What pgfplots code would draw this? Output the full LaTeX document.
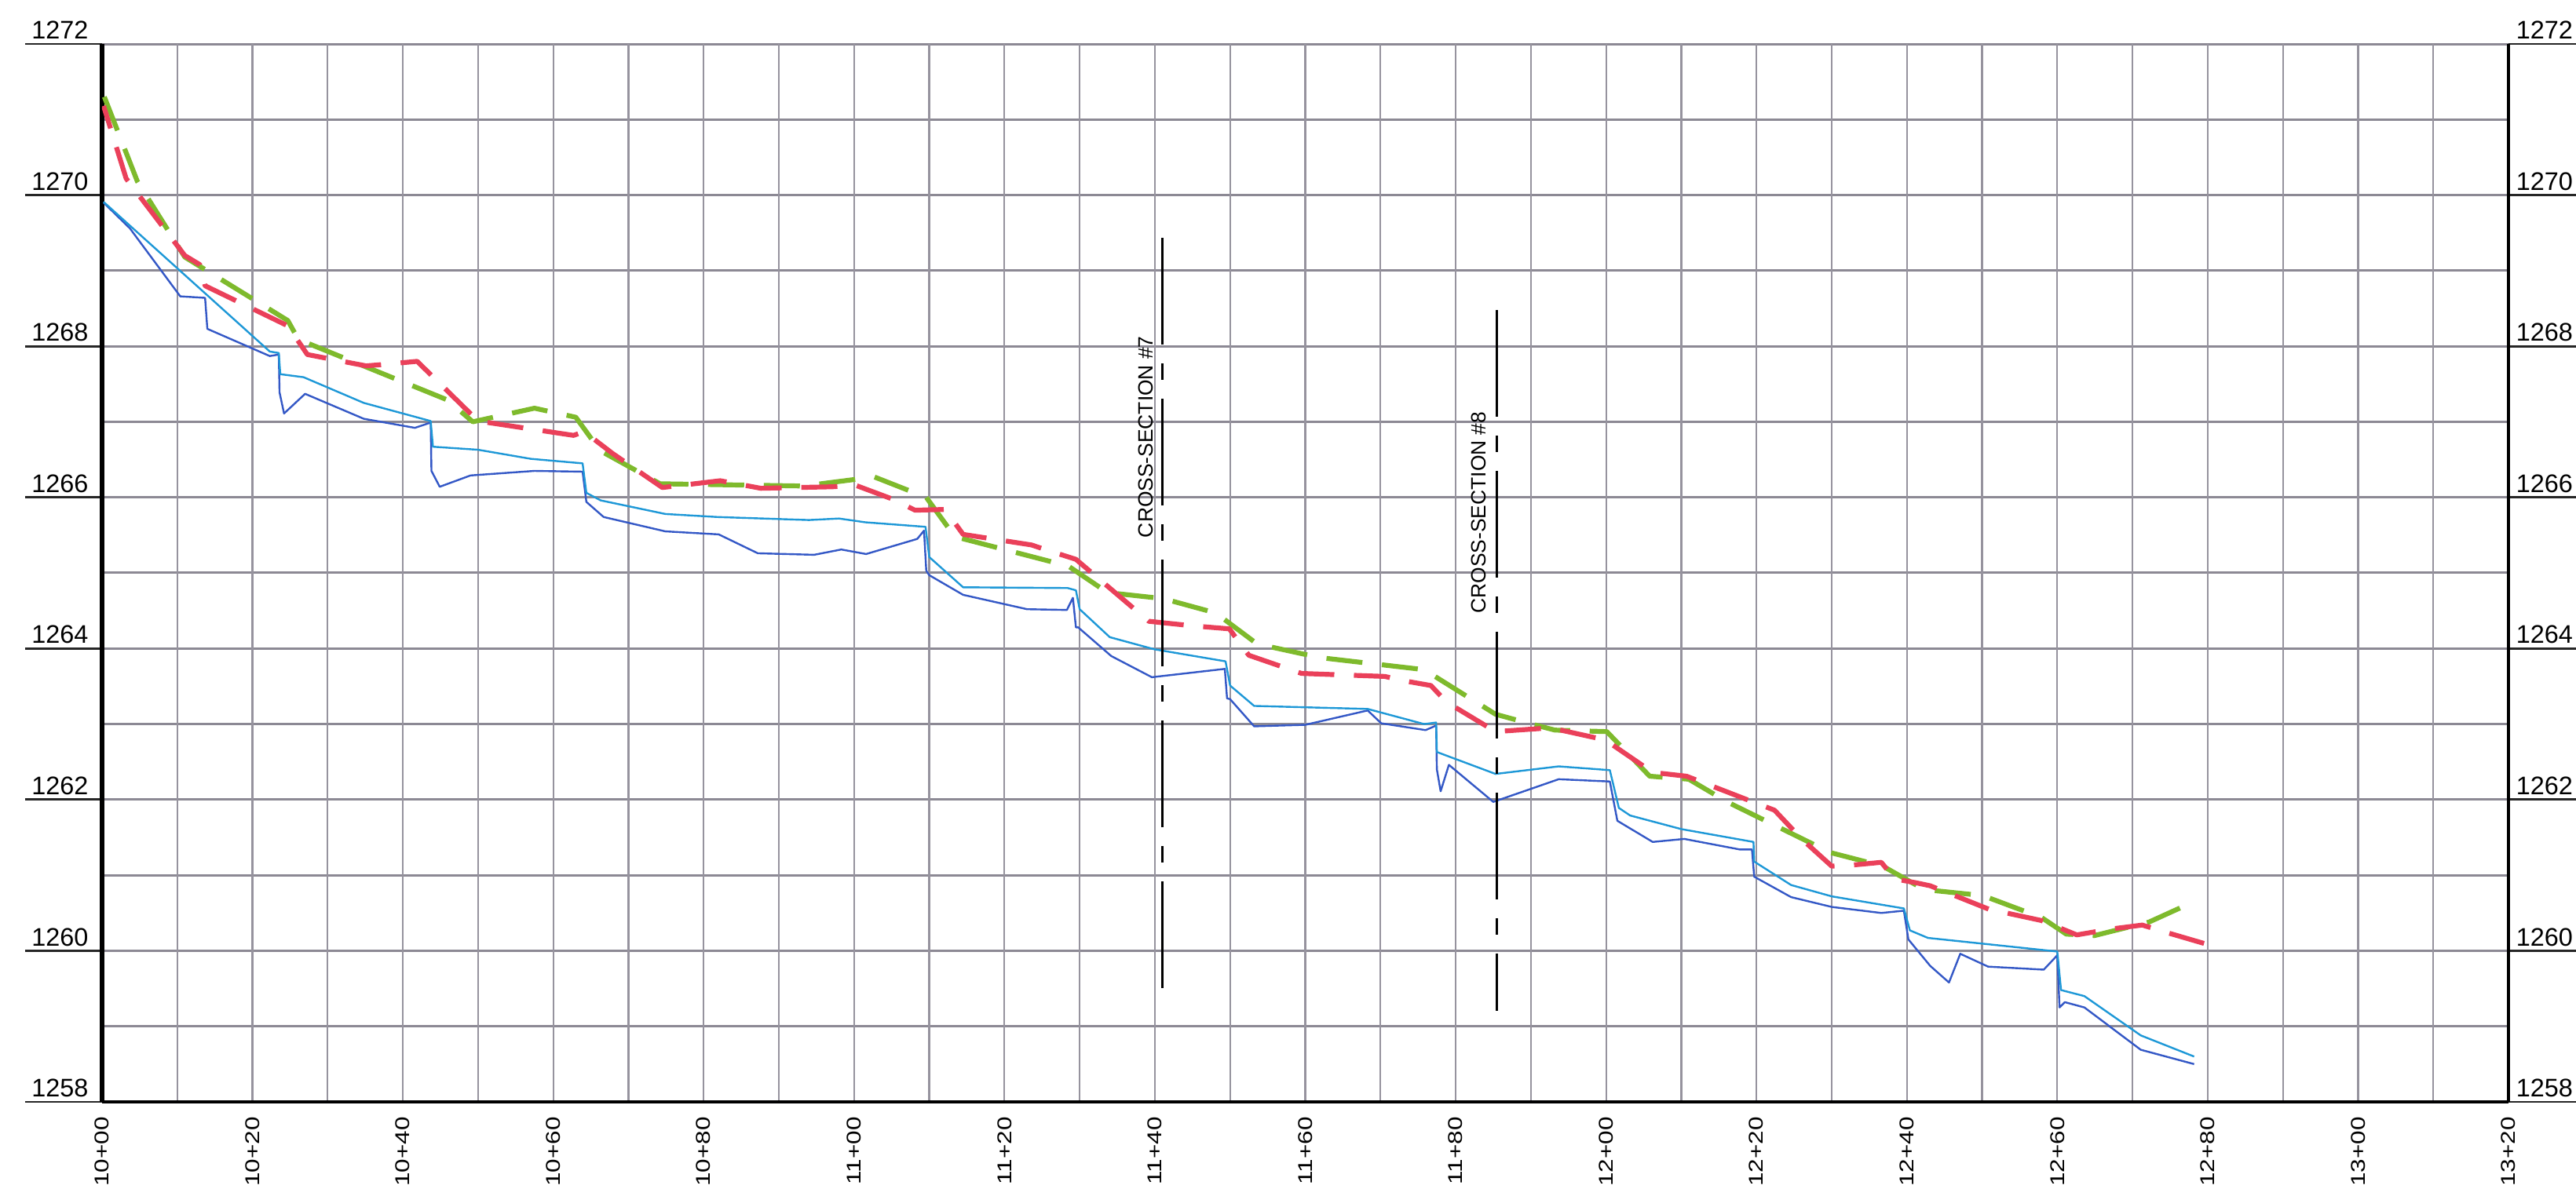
\documentclass[border=0pt]{standalone}
\usepackage{graphicx}
\usepackage{pgfplots}
\pgfplotsset{compat=1.18}
\usepackage{fontspec}
\setmainfont{Liberation Sans}
\definecolor{gridc}{RGB}{140,137,148}
\definecolor{gridv}{RGB}{150,147,158}
\definecolor{dkblue}{RGB}{52,88,198}
\definecolor{ltblue}{RGB}{30,152,215}
\definecolor{redd}{RGB}{234,64,90}
\definecolor{grn}{RGB}{126,186,44}
\newcommand\xl[1]{\scalebox{1.24}[1]{#1}}
\begin{document}
\begin{tikzpicture}
\path[use as bounding box] (-32.5pt,-27.5pt) rectangle (787.75pt,351pt);
% background axis: horizontal grid, right labels, left/right axis lines, tick extensions
\begin{axis}[
  at={(0,0)}, anchor=south west, scale only axis,
  width=766.25pt, height=337pt,
  xmin=1000, xmax=1320, ymin=1258, ymax=1272,
  axis x line=none, axis y line*=box,
  xtick=\empty,
  ytick={1258,1260,...,1272},
  minor ytick={1259,1261,...,1271},
  yticklabels={1258,1260,1262,1264,1266,1268,1270,1272},
  ymajorgrids, yminorgrids,
  major grid style={gridc, line width=0.75pt},
  minor grid style={gridc, line width=0.75pt},
  tick align=outside, major tick length=24.5pt, minor tick length=0pt,
  tick style={black!85, line width=0.7pt},
  yticklabel pos=right,
  yticklabel style={anchor=base west, inner sep=0pt, xshift=-22.25pt, yshift=1.6pt, font=\fontsize{8.1}{9}\selectfont},
  axis line style={-},
  y axis line style={black, line width=1pt},
]
\addplot[draw=none] coordinates {(1000,1260)};
\end{axis}
% main axis
\begin{axis}[
  at={(0,0)}, anchor=south west, scale only axis,
  width=766.25pt, height=337pt,
  xmin=1000, xmax=1320, ymin=1258, ymax=1272,
  axis x line*=bottom, axis y line*=left,
  axis line style={-},
  x axis line style={black, line width=1.1pt},
  y axis line style={black, line width=1.3pt},
  xtick={1000,1020,...,1300},
  xticklabels={\xl{10+00},\xl{10+20},\xl{10+40},\xl{10+60},\xl{10+80},\xl{11+00},\xl{11+20},\xl{11+40},\xl{11+60},\xl{11+80},\xl{12+00},\xl{12+20},\xl{12+40},\xl{12+60},\xl{12+80},\xl{13+00}},
  extra x ticks={1320}, extra x tick labels={\xl{13+20}},
  extra x tick style={grid=none},
  minor xtick={1010,1030,...,1310},
  xmajorgrids, xminorgrids,
  major grid style={gridv, line width=0.55pt},
  minor grid style={gridv, line width=0.55pt},
  ytick={1258,1260,...,1272},
  yticklabels={1258,1260,1262,1264,1266,1268,1270,1272},
  major tick length=0pt, minor tick length=0pt,
  yticklabel style={anchor=base west, inner sep=0pt, xshift=-22.6pt, yshift=1.6pt, font=\fontsize{8.1}{9}\selectfont},
  xticklabel style={rotate=90, anchor=east, inner sep=0pt, font=\fontsize{6.35}{7}\selectfont},
  xticklabel shift=4.6pt,
]
% dark blue
\addplot[dkblue, line width=0.6pt, line join=round] coordinates {
(1000.2,1269.90)(1003.7,1269.56)(1010.4,1268.66)(1013.7,1268.64)(1014.0,1268.23)
(1022.3,1267.87)(1023.5,1267.89)(1023.6,1267.39)(1024.2,1267.11)(1027.0,1267.37)
(1034.8,1267.04)(1041.6,1266.92)(1043.7,1266.99)(1043.8,1266.35)(1044.9,1266.14)
(1049.0,1266.29)(1057.5,1266.35)(1063.9,1266.34)(1064.4,1265.94)(1066.7,1265.74)
(1074.9,1265.55)(1082.0,1265.51)(1087.2,1265.26)(1094.7,1265.24)(1098.3,1265.31)
(1101.6,1265.25)(1108.4,1265.45)(1109.3,1265.56)(1109.6,1265.03)(1110.0,1264.97)
(1114.5,1264.71)(1123.0,1264.52)(1128.3,1264.51)(1129.1,1264.67)(1129.5,1264.28)
(1129.8,1264.28)(1134.2,1263.90)(1139.6,1263.62)(1149.3,1263.73)(1149.6,1263.34)
(1150.0,1263.33)(1153.2,1262.97)(1160.0,1262.99)(1168.3,1263.18)(1170.1,1263.01)
(1176.0,1262.92)(1177.4,1262.98)(1177.5,1262.40)(1178.0,1262.11)(1179.1,1262.46)
(1185.0,1261.97)(1193.7,1262.27)(1200.5,1262.24)(1201.5,1261.72)(1206.2,1261.44)
(1210.4,1261.48)(1217.8,1261.34)(1219.4,1261.34)(1219.7,1260.98)(1224.6,1260.71)
(1230.0,1260.58)(1236.6,1260.50)(1239.6,1260.53)(1240.2,1260.15)(1243.1,1259.80)
(1245.6,1259.58)(1247.1,1259.96)(1250.8,1259.79)(1258.2,1259.75)(1260.0,1259.94)
(1260.3,1259.25)(1261.0,1259.32)(1263.6,1259.25)(1271.1,1258.69)(1278.2,1258.50)
};
% light blue
\addplot[ltblue, line width=0.6pt, line join=round] coordinates {
(1000.2,1269.91)(1022.3,1267.93)(1023.5,1267.91)(1023.7,1267.63)(1026.8,1267.59)
(1034.8,1267.25)(1043.7,1267.01)(1044.0,1266.67)(1050.0,1266.63)(1057.0,1266.51)
(1063.9,1266.45)(1064.4,1266.06)(1066.3,1265.96)(1074.9,1265.78)(1081.8,1265.74)
(1094.0,1265.70)(1098.0,1265.72)(1101.5,1265.67)(1109.5,1265.61)(1110.0,1265.21)
(1114.5,1264.81)(1128.4,1264.80)(1129.5,1264.77)(1130.0,1264.52)(1134.0,1264.15)
(1139.9,1263.99)(1149.4,1263.83)(1150.0,1263.51)(1153.2,1263.24)(1168.3,1263.20)
(1175.8,1263.00)(1177.4,1263.02)(1177.5,1262.63)(1185.3,1262.34)(1193.7,1262.44)
(1200.5,1262.39)(1201.7,1261.89)(1203.2,1261.79)(1210.0,1261.61)(1219.6,1261.44)
(1219.7,1261.18)(1224.6,1260.87)(1230.0,1260.72)(1239.6,1260.56)(1240.4,1260.27)
(1242.8,1260.17)(1260.0,1259.99)(1260.5,1259.48)(1263.6,1259.40)(1271.1,1258.88)
(1278.2,1258.60)
};
% green dashed
\addplot[grn, line width=1.55pt, dash pattern=on 11.5pt off 6.25pt, line join=round] coordinates {
(1000.3,1271.30)(1004.7,1270.18)(1011.0,1269.18)(1024.7,1268.34)(1026.1,1268.09)
(1045.9,1267.29)(1049.3,1267.00)(1057.5,1267.18)(1063.0,1267.06)(1066.2,1266.62)
(1074.2,1266.18)(1093.3,1266.15)(1096.4,1266.19)(1102.7,1266.27)(1109.6,1266.00)
(1113.4,1265.48)(1128.5,1265.09)(1133.7,1264.74)(1141.1,1264.66)(1148.1,1264.47)
(1153.6,1264.06)(1161.9,1263.88)(1175.8,1263.72)(1185.3,1263.13)(1189.7,1263.01)
(1193.2,1262.92)(1200.1,1262.90)(1205.8,1262.31)(1211.0,1262.27)(1216.1,1261.97)
(1229.8,1261.30)(1236.8,1261.12)(1242.3,1260.81)(1250.1,1260.73)(1257.9,1260.44)
(1261.2,1260.22)(1264.9,1260.20)(1272.2,1260.38)(1278.4,1260.66)
};
% red dashed
\addplot[redd, line width=1.55pt, dash pattern=on 11.5pt off 6.25pt, dash phase=4pt, line join=round] coordinates {
(1000.2,1271.18)(1003.2,1270.22)(1011.0,1269.20)(1013.0,1269.08)(1013.7,1268.80)
(1024.7,1268.27)(1027.3,1267.89)(1035.1,1267.74)(1037.6,1267.76)(1041.9,1267.80)
(1050.0,1267.01)(1062.7,1266.82)(1064.1,1266.87)(1067.9,1266.58)(1074.5,1266.13)
(1082.2,1266.22)(1087.6,1266.12)(1097.1,1266.14)(1100.2,1266.16)(1105.3,1265.97)
(1108.1,1265.83)(1112.1,1265.84)(1114.5,1265.51)(1123.6,1265.37)(1125.7,1265.30)
(1129.5,1265.18)(1139.2,1264.36)(1145.0,1264.30)(1149.9,1264.26)(1152.5,1263.91)
(1159.5,1263.67)(1170.6,1263.63)(1172.7,1263.58)(1176.7,1263.51)(1178.8,1263.29)
(1185.3,1262.90)(1192.6,1262.95)(1199.9,1262.79)(1206.2,1262.36)(1210.7,1262.31)
(1220.3,1261.94)(1222.4,1261.86)(1226.0,1261.48)(1230.0,1261.12)(1232.3,1261.13)
(1236.6,1261.17)(1238.4,1260.95)(1241.2,1260.90)(1243.1,1260.86)(1250.9,1260.55)
(1257.9,1260.40)(1262.6,1260.21)(1267.3,1260.29)(1271.3,1260.34)(1274.6,1260.24)
(1280.1,1260.08)
};
% cross-section lines
\addplot[black, line width=0.8pt, dash pattern=on 34pt off 6pt on 5.25pt off 6pt] coordinates {(1141,1269.43)(1141,1259.38)};
\addplot[black, line width=0.8pt, dash pattern=on 34pt off 6pt on 5.25pt off 6pt] coordinates {(1185.5,1268.48)(1185.5,1259.20)};
\node[rotate=90, inner sep=0pt, font=\fontsize{6.6}{8}\selectfont] at (axis cs:1138.8,1266.8) {CROSS-SECTION \#7};
\node[rotate=90, inner sep=0pt, font=\fontsize{6.6}{8}\selectfont] at (axis cs:1183.1,1265.8) {CROSS-SECTION \#8};
\end{axis}
\end{tikzpicture}
\end{document}
